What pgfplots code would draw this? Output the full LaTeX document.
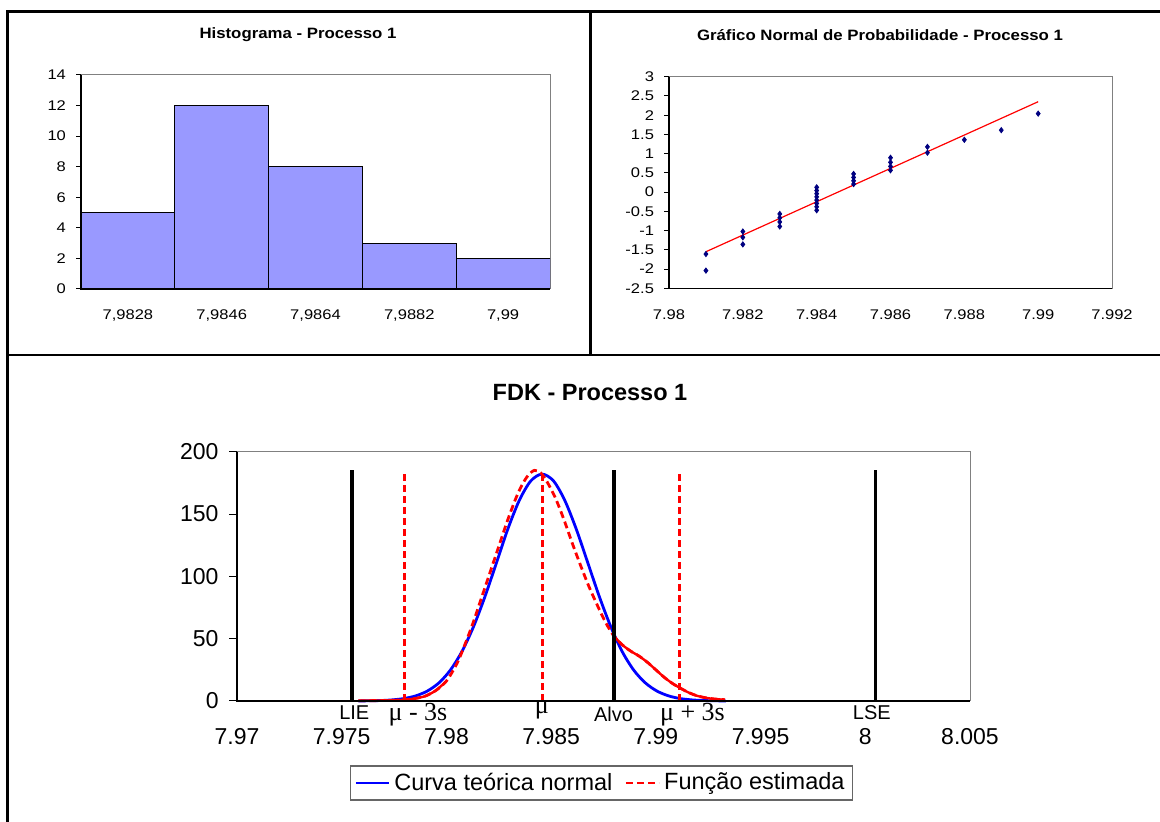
\documentclass[border=0pt]{standalone}
\usepackage{pgfplots}
\usepackage{pgfplotstable}
\pgfplotsset{compat=1.18}
\usepackage{fontspec}
\setmainfont{Liberation Sans}
\newfontfamily\timesfont{Liberation Serif}
\newfontfamily\widefont[FakeStretch=1.18]{Liberation Sans}
\newfontfamily\widetitle[FakeStretch=1.12]{Liberation Sans}

\definecolor{histfill}{RGB}{153,153,255}
\definecolor{navydot}{RGB}{0,0,128}
\definecolor{framegray}{RGB}{128,128,128}

\newcommand\smallfont{\fontsize{7}{8.4}\widefont}
\newcommand\bigfont{\fontsize{11.5}{13.5}\selectfont}

% estimated density
\pgfplotstableread{
x y
7.9758 0.2
7.9766 0.3
7.9774 0.5
7.9780 1.0
7.9785 2.0
7.9790 4.0
7.9795 8.5
7.9800 16
7.9805 30
7.9809 46
7.9813 64
7.9817 84
7.9821 104
7.9825 124
7.9829 144
7.9833 162
7.9836 173
7.9839 181
7.9842 185
7.9845 183
7.9848 176
7.9852 163
7.9856 146
7.9860 127
7.9864 109
7.9868 92
7.9872 77
7.9876 63
7.9880 52
7.9884 45
7.9888 40
7.9892 36
7.9896 31
7.9900 25
7.9904 19
7.9908 14
7.9912 10
7.9916 6.5
7.9920 4
7.9924 2.5
7.9928 1.6
7.9933 1
}\kde

\pgfplotsset{
  excel/.style={
    scale only axis, anchor=south west,
    axis line style={framegray, line width=0.5pt},
    tick align=outside, xtick pos=left, ytick pos=left,
    tick style={black, line width=0.5pt},
    /pgf/number format/assume math mode=true,
    scaled ticks=false,
    after end axis/.code={\draw[black, line width=0.6pt] (rel axis cs:0,1) -- (rel axis cs:0,0) -- (rel axis cs:1,0);},
  },
}

\begin{document}
\begin{tikzpicture}
\useasboundingbox (0,0) rectangle (580pt,411pt);

% panel frame
\draw[line width=1.25pt] (3.75pt,0) -- (3.75pt,405.25pt) -- (580pt,405.25pt);
\draw[line width=1.25pt] (3.75pt,233.5pt) -- (580pt,233.5pt);
\draw[line width=1.25pt] (295.25pt,233.5pt) -- (295.25pt,405.25pt);

\node[font=\fontsize{7.5}{9}\widetitle\bfseries] at (149pt,393.5pt) {Histograma - Processo 1};
\node[font=\fontsize{7.5}{9}\widetitle\bfseries] at (440pt,393.5pt) {Gráfico Normal de Probabilidade - Processo 1};
\node[font=\fontsize{11.75}{14}\selectfont\bfseries] at (295pt,214.5pt) {FDK - Processo 1};

% histogram
\begin{axis}[excel, at={(40.5pt,266.5pt)}, width=234.5pt, height=107pt,
  xmin=0, xmax=5, ymin=0, ymax=14,
  ytick={0,2,4,6,8,10,12,14},
  major tick length=2.5pt,
  xtick={0.5,1.5,2.5,3.5,4.5},
  xticklabels={{7,9828},{7,9846},{7,9864},{7,9882},{7,99}},
  xtick style={draw=none},
  extra x ticks={0,1,2,3,4,5}, extra x tick labels={},
  ticklabel style={font=\smallfont},
  xticklabel style={yshift=-4.3pt},
  yticklabel style={xshift=-1.5pt},
]
\addplot[ybar interval, fill=histfill, draw=black, line width=0.5pt]
  coordinates {(0,5)(1,12)(2,8)(3,3)(4,2)(5,2)};
\end{axis}

% normal probability plot
\begin{axis}[excel, at={(334.5pt,266.85pt)}, width=221.5pt, height=105.8pt,
  xmin=7.98, xmax=7.992, ymin=-2.5, ymax=3,
  xtick={7.98,7.982,7.984,7.986,7.988,7.99,7.992},
  ytick={-2.5,-2,-1.5,-1,-0.5,0,0.5,1,1.5,2,2.5,3},
  major tick length=2.5pt,
  xtick style={draw=none},
  ticklabel style={font=\smallfont},
  xticklabel style={/pgf/number format/precision=3, yshift=-4.6pt},
  yticklabel style={xshift=-1.5pt},
]
\addplot[red, line width=0.6pt] coordinates {(7.981,-1.55)(7.99,2.35)};
\addplot[only marks, mark=diamond*, mark size=1.3pt, navydot] coordinates {
(7.981,-2.040)(7.981,-1.610)
(7.982,-1.360)(7.982,-1.176)(7.982,-1.024)
(7.983,-0.893)(7.983,-0.775)(7.983,-0.668)(7.983,-0.567)
(7.984,-0.473)(7.984,-0.382)(7.984,-0.294)(7.984,-0.208)(7.984,-0.124)(7.984,-0.041)(7.984,0.041)(7.984,0.124)
(7.985,0.208)(7.985,0.294)(7.985,0.382)(7.985,0.473)
(7.986,0.567)(7.986,0.668)(7.986,0.775)(7.986,0.893)
(7.987,1.024)(7.987,1.176)
(7.988,1.360)(7.989,1.610)(7.99,2.040)};
\end{axis}

% FDK
\begin{axis}[excel, at={(118.5pt,60.5pt)}, width=366.5pt, height=124.65pt,
  xmin=7.97, xmax=8.005, ymin=0, ymax=200,
  xtick={7.97,7.975,7.98,7.985,7.99,7.995,8,8.005},
  ytick={0,50,100,150,200},
  major tick length=4pt,
  xtick style={draw=none},
  ticklabel style={font=\bigfont},
  xticklabel style={/pgf/number format/precision=3, yshift=-6pt},
  yticklabel style={xshift=-1.7pt},
  clip=false,
  legend columns=2,
  legend cell align=left,
  legend image code/.code={\draw[#1] (0pt,0pt) -- (16.5pt,0pt);},
  legend style={at={(0.4973,-0.2567)}, anchor=north, draw=black!60, line width=0.8pt,
    font=\fontsize{11.75}{14}\selectfont, inner xsep=2pt, inner ysep=1.5pt,
    /tikz/every even column/.append style={column sep=4pt}},
]
\addplot[blue, line width=1.4pt, smooth] coordinates {
(7.97580,0.06)(7.97635,0.16)(7.97690,0.40)(7.97744,0.93)(7.97799,2.02)(7.97854,4.15)
(7.97909,8.0)(7.97964,14.5)(7.98018,24.6)(7.98073,39.4)(7.98128,59.1)(7.98183,83.3)
(7.98238,110.4)(7.98292,137.4)(7.98347,160.6)(7.98402,176.4)(7.98457,182.0)(7.98512,176.4)
(7.98566,160.6)(7.98621,137.4)(7.98676,110.4)(7.98731,83.3)(7.98786,59.1)(7.98840,39.4)
(7.98895,24.6)(7.98950,14.5)(7.99005,8.0)(7.99060,4.15)(7.99114,2.02)(7.99169,0.93)
(7.99224,0.40)(7.99279,0.16)(7.99334,0.06)};
\addlegendentry{Curva teórica normal}
\addplot[red, line width=1.4pt, dash pattern=on 3.5pt off 2pt, smooth] table {\kde};
\addlegendentry{Função estimada}
\addplot[red, line width=1.2pt, smooth, forget plot, restrict x to domain=7.975:7.9800] table {\kde};
\addplot[red, line width=1.2pt, smooth, forget plot, restrict x to domain=7.9880:7.995] table {\kde};
% limits and target
\addplot[black, line width=1.7pt, forget plot] coordinates {(7.9755,0)(7.9755,185)};
\addplot[black, line width=1.7pt, forget plot] coordinates {(7.988,0)(7.988,185)};
\addplot[black, line width=1.7pt, forget plot] coordinates {(8.0005,0)(8.0005,185)};
% mean and +-3s
\addplot[red, line width=1.4pt, dash pattern=on 3.5pt off 2pt, forget plot] coordinates {(7.97799,0)(7.97799,183)};
\addplot[red, line width=1.4pt, dash pattern=on 3.5pt off 2pt, forget plot] coordinates {(7.98457,0)(7.98457,183)};
\addplot[red, line width=1.4pt, dash pattern=on 3.5pt off 2pt, forget plot] coordinates {(7.99114,0)(7.99114,183)};
\node[font=\fontsize{10}{12}\selectfont, yshift=-6pt] at (axis cs:7.9756,0) {LIE};
\node[font=\fontsize{13}{15}\selectfont\timesfont, yshift=-7pt] at (axis cs:7.97864,0) {μ - 3s};
\node[font=\fontsize{13}{15}\selectfont\timesfont, yshift=-4.5pt] at (axis cs:7.98455,0) {μ};
\node[font=\fontsize{10}{12}\selectfont, yshift=-6.5pt] at (axis cs:7.98798,0) {Alvo};
\node[font=\fontsize{13}{15}\selectfont\timesfont, yshift=-7pt] at (axis cs:7.99175,0) {μ + 3s};
\node[font=\fontsize{10}{12}\selectfont, yshift=-6pt] at (axis cs:8.00031,0) {LSE};
\end{axis}
\end{tikzpicture}
\end{document}
